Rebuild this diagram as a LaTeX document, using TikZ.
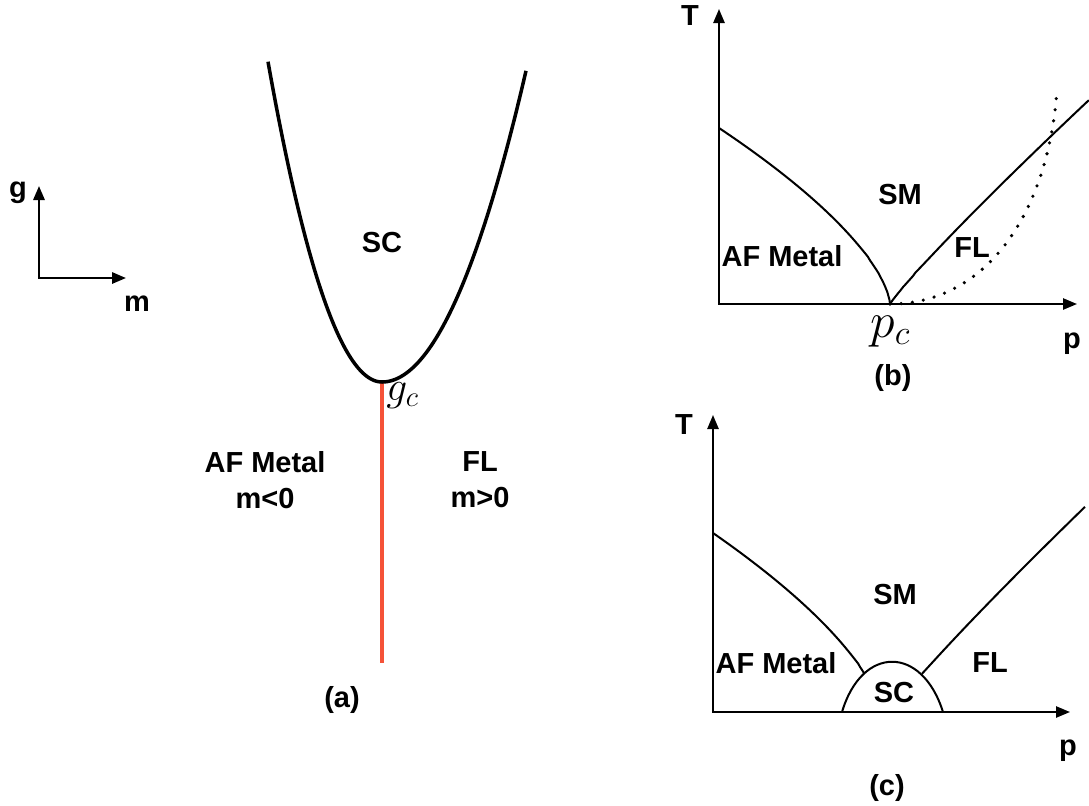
\documentclass[tikz,border=0pt]{standalone}
\usepackage{fontspec}
\setmainfont{Liberation Sans}
\usetikzlibrary{arrows.meta}
\definecolor{redln}{RGB}{245,82,56}
\begin{document}
\begin{tikzpicture}[x=0.5pt,y=-0.5pt,
  lbl/.style={font=\bfseries\fontsize{14.5}{18}\selectfont, inner sep=0pt, align=center},
  mlbl/.style={font=\fontsize{21}{21}\selectfont, inner sep=0pt},
  axes/.style={line width=1pt, {Triangle[length=7pt,width=5.6pt]}-{Triangle[length=7pt,width=5.6pt]}},
  phase/.style={line width=1pt},
  dotline/.style={line width=1.8pt, line cap=round, dash pattern=on 0pt off 5.6pt},
  redline/.style={draw=redln, line width=1.8pt},
  thick parab/.style={line width=1.75pt}
]
\useasboundingbox (0,0) rectangle (1089,805);

% ---------- panel (a) ----------
\coordinate (ao) at (39,278);
\coordinate (ag) at (39,186);
\coordinate (am) at (126,278);
\draw[axes, line width=1.2pt] (ag) -- (ao) -- (am);
\node[lbl, anchor=base] (lg) at (18,197) {g};
\node[lbl, anchor=base] (lm) at (137,311) {m};

\coordinate (gc) at (382,382);
\coordinate (rb) at (382,663);
\draw[redline] (gc) -- (rb);
\draw[thick parab] plot[domain=268:382, samples=60] (\x,{382-(0.157*(\x-382))^2})
  -- plot[domain=382:526, samples=60] (\x,{382-(0.1225*(\x-382))^2});

\node[lbl] (asc) at (382,243) {SC};
\node[mlbl, anchor=base west] (agc) at (386,400) {$g_c$};
\node[lbl] (aaf) at (265,480) {AF Metal\\m<0};
\node[lbl] (afl) at (480,480) {FL\\m>0};
\node[lbl] (acap) at (342,700) {(a)};

% ---------- panel (b) ----------
\coordinate (bO) at (719,304);
\coordinate (bT) at (719,9);
\coordinate (bP) at (1077,304);
\coordinate (bpc) at (890,304);
\draw[axes] (bT) -- (bO) -- (bP);
\draw[phase] plot[domain=0:0.998, samples=80, variable=\u] ({719+171*\u},{304-176*(1-\u)^0.65}) -- (bpc);
\draw[phase] (bpc) -- plot[domain=0.002:1, samples=80, variable=\w] ({890+199*\w},{304-204*(\w)^0.92});
\coordinate (bd) at (1057,90);
\draw[dotline] (bpc) .. controls (985,304) and (1048,215) .. (bd);

\node[lbl, anchor=base] (bTl) at (690,25) {T};
\node[lbl, anchor=base] (bpl) at (1072,348) {p};
\node[mlbl, anchor=base west, font=\fontsize{23}{23}\selectfont] (bpcl) at (870,337) {$p_c$};
\node[lbl] (bsm) at (900,195) {SM};
\node[lbl] (baf) at (782,256) {AF Metal};
\node[lbl] (bfl) at (972,248) {FL};
\node[lbl] (bcap) at (893,378) {(b)};

% ---------- panel (c) ----------
\coordinate (cO) at (713,712);
\coordinate (cT) at (713,415);
\coordinate (cP) at (1070,712);
\draw[axes] (cT) -- (cO) -- (cP);
\coordinate (cdl) at (842,712);
\coordinate (cdr) at (943,712);
\draw[phase] (cdl) .. controls (862,645) and (922,645) .. (cdr);
\draw[phase] plot[domain=0:0.905, samples=80, variable=\u] ({713+167*\u},{712-179*(1-\u)^0.65});
\draw[phase] plot[domain=0.156:0.975, samples=80, variable=\w] ({891+199*\w},{712-210*(\w)^0.92});

\node[lbl, anchor=base] (cTl) at (684,434) {T};
\node[lbl, anchor=base] (cpl) at (1068,755) {p};
\node[lbl] (csm) at (895,595) {SM};
\node[lbl] (caf) at (776,663) {AF Metal};
\node[lbl] (cfl) at (990,663) {FL};
\node[lbl] (csc) at (894,693) {SC};
\node[lbl] (ccap) at (887,788) {(c)};
\end{tikzpicture}
\end{document}
